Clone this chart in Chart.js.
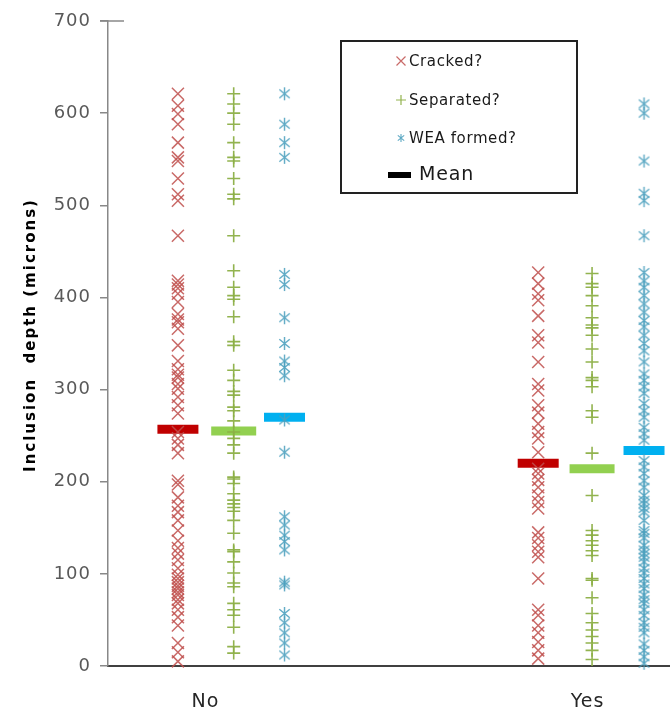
<!DOCTYPE html>
<html>
<head>
<meta charset="utf-8">
<script src="https://cdn.jsdelivr.net/npm/chart.js@4.4.0/dist/chart.umd.min.js"></script>
<style>
  html, body { margin: 0; padding: 0; background: #fff; }
  #wrap { width: 670px; height: 707px; }
</style>
</head>
<body>
<div id="wrap"><canvas id="c" width="670" height="707"></canvas></div>
<script>
// categories and labels
const groups = ['No', 'Yes'];
const seriesNames = ['Cracked?', 'Separated?', 'WEA formed?'];
const meanName = 'Mean';
const yTitle = 'Inclusion  depth (microns)';
const yTicks = [0, 100, 200, 300, 400, 500, 600, 700];

// inclusion depths (microns)
const crackedNo = [621, 608, 599, 588, 568, 552, 548, 529, 512, 505, 467, 418, 414, 410, 404, 395, 382, 376, 373, 366,
  348, 331, 322, 316, 313, 306, 301, 292, 283, 274, 254, 247, 240, 231, 201, 197, 183, 174, 167, 158, 147, 136, 128,
  122, 115, 106, 99, 95, 91, 87, 84, 80, 77, 72, 68, 61, 53, 44, 25, 15, 5];
const crackedYes = [427, 415, 404, 397, 380, 359, 351, 330, 306, 299, 283, 275, 263, 254, 247, 232, 214, 209, 202, 194,
  185, 178, 171, 145, 139, 131, 124, 118, 95, 61, 55, 44, 36, 26, 17, 8];

const separatedNo = [621, 610, 600, 588, 568, 552, 548, 529, 512, 507, 467, 429, 411, 402, 398, 379, 352, 348, 321, 310,
  298, 294, 281, 277, 266, 254, 247, 240, 231, 205, 203, 198, 187, 180, 176, 172, 168, 158, 144, 126, 124, 113, 101,
  90, 86, 68, 61, 55, 42, 21, 14];
const separatedYes = [426, 415, 411, 402, 391, 378, 370, 367, 359, 344, 330, 313, 310, 303, 277, 270, 231, 185, 147, 142,
  136, 131, 125, 120, 95, 93, 74, 57, 47, 39, 32, 25, 17, 7];

const weaNo = [621, 588, 568, 552, 425, 414, 378, 350, 331, 324, 315, 267, 232, 162, 153, 142, 135, 126, 91, 88, 57, 47,
  36, 25, 12];
const weaYes = [610, 600, 548, 513, 505, 467, 427, 418, 411, 402, 393, 384, 375, 368, 359, 350, 342, 330, 317, 310, 303,
  296, 285, 277, 270, 259, 252, 245, 223, 216, 209, 201, 194, 185, 180, 176, 171, 167, 158, 147, 144, 139, 131, 126,
  122, 118, 113, 106, 101, 95, 89, 84, 77, 72, 68, 61, 55, 47, 42, 36, 24, 17, 10, 3];

// means per series: [Cracked, Separated, WEA]
const meansNo = [257, 255, 270];
const meansYes = [220, 214, 234];

// layout: x position of each column on the linear x axis (No = 1, Yes = 2)
const colX = {
  No: [0.928, 1.074, 1.207],
  Yes: [1.871, 2.012, 2.148]
};

const colors = ['rgba(192,80,77,0.85)', 'rgba(140,175,70,0.95)', 'rgba(75,160,190,0.9)'];
const meanColors = ['#C00000', '#92D050', '#00B0F0'];

function starMarker(color, s, lw) {
  const c = document.createElement('canvas');
  c.width = c.height = s;
  const g = c.getContext('2d');
  g.strokeStyle = color;
  g.lineWidth = lw;
  const m = s / 2, r = s / 2 - 1;
  g.beginPath();
  g.moveTo(m, m - r); g.lineTo(m, m + r);
  g.moveTo(m - r * 0.8, m - r * 0.65); g.lineTo(m + r * 0.8, m + r * 0.65);
  g.moveTo(m + r * 0.8, m - r * 0.65); g.lineTo(m - r * 0.8, m + r * 0.65);
  g.stroke();
  return c;
}
const weaStar = starMarker(colors[2], 15, 1.4);
const weaStarSmall = starMarker(colors[2], 10, 1.1);

function pts(no, yes, i) {
  return no.map(v => ({ x: colX.No[i], y: v })).concat(yes.map(v => ({ x: colX.Yes[i], y: v })));
}

const pointDatasets = [
  { label: seriesNames[0], data: pts(crackedNo, crackedYes, 0), pointStyle: 'crossRot', radius: 8.5, borderWidth: 1.5 },
  { label: seriesNames[1], data: pts(separatedNo, separatedYes, 1), pointStyle: 'cross', radius: 6.5, borderWidth: 1.6 },
  { label: seriesNames[2], data: pts(weaNo, weaYes, 2), pointStyle: weaStar, radius: 7, borderWidth: 1 }
].map((d, i) => Object.assign(d, {
  borderColor: colors[i], backgroundColor: colors[i], pointBorderColor: colors[i], clip: false
}));

const meanDatasets = meanColors.map((col, i) => ({
  label: meanName,
  data: [{ x: colX.No[i], y: meansNo[i] }, { x: colX.Yes[i], y: meansYes[i] }],
  pointStyle: 'line',
  radius: i === 1 ? 22.5 : 20.5,
  borderWidth: 9,
  borderColor: col,
  backgroundColor: col,
  clip: false
}));

const extras = {
  id: 'extras',
  beforeDraw(chart) { chart.ctx.letterSpacing = '1px'; },
  afterDraw(chart) {
    const ctx = chart.ctx;
    ctx.letterSpacing = '0px';
    ctx.save();
    const area = chart.chartArea;
    // short line at the top of the axis
    ctx.strokeStyle = '#888';
    ctx.lineWidth = 1.5;
    ctx.beginPath();
    ctx.moveTo(area.left - 8, area.top);
    ctx.lineTo(area.left + 16, area.top);
    ctx.stroke();

    // y axis title
    ctx.save();
    ctx.translate(31, 335);
    ctx.rotate(-Math.PI / 2);
    ctx.font = 'bold 15px "DejaVu Sans"';
    ctx.fillStyle = '#000';
    ctx.textAlign = 'center';
    ctx.textBaseline = 'middle';
    ctx.letterSpacing = '2px';
    ctx.fillText(yTitle, 0, 0);
    ctx.restore();

    // legend box
    ctx.fillStyle = '#fff';
    ctx.fillRect(341, 41, 236, 152);
    ctx.strokeStyle = '#222';
    ctx.lineWidth = 2;
    ctx.strokeRect(341, 41, 236, 152);

    const mx = 401, rows = [61, 100, 138];
    ctx.lineWidth = 1.2;
    ctx.strokeStyle = colors[0];
    ctx.beginPath();
    ctx.moveTo(mx - 4.5, rows[0] - 4.5); ctx.lineTo(mx + 4.5, rows[0] + 4.5);
    ctx.moveTo(mx + 4.5, rows[0] - 4.5); ctx.lineTo(mx - 4.5, rows[0] + 4.5);
    ctx.stroke();
    ctx.strokeStyle = colors[1];
    ctx.beginPath();
    ctx.moveTo(mx - 5, rows[1]); ctx.lineTo(mx + 5, rows[1]);
    ctx.moveTo(mx, rows[1] - 5); ctx.lineTo(mx, rows[1] + 5);
    ctx.stroke();
    ctx.drawImage(weaStarSmall, mx - 5, rows[2] - 5);
    ctx.fillStyle = '#000';
    ctx.fillRect(388, 172, 23, 6);

    ctx.fillStyle = '#1a1a1a';
    ctx.textAlign = 'left';
    ctx.textBaseline = 'middle';
    ctx.font = '15px "DejaVu Sans"';
    ctx.letterSpacing = '0.6px';
    seriesNames.forEach((n, i) => ctx.fillText(n, 409, rows[i] + 1));
    ctx.font = '19px "DejaVu Sans"';
    ctx.letterSpacing = '0.8px';
    ctx.fillText(meanName, 419, 175);
    ctx.restore();
    ctx.letterSpacing = '0px';
  }
};

new Chart(document.getElementById('c'), {
  type: 'scatter',
  data: { datasets: pointDatasets.concat(meanDatasets) },
  options: {
    responsive: false,
    animation: false,
    layout: { autoPadding: false, padding: { top: 21, right: 0, bottom: 0, left: 0 } },
    plugins: { legend: { display: false }, tooltip: { enabled: false } },
    scales: {
      x: {
        type: 'linear',
        min: 0.745,
        max: 2.216,
        afterBuildTicks: s => { s.ticks = groups.map((g, i) => ({ value: i + 1 })); },
        afterFit: s => { s.height = 41; s.paddingLeft = 0; s.paddingRight = 0; },
        grid: { display: false },
        border: { display: true, color: '#404040', width: 2 },
        ticks: {
          padding: 17,
          color: '#262626',
          font: { family: 'DejaVu Sans', size: 19 },
          callback: v => groups[Math.round(v) - 1]
        }
      },
      y: {
        min: 0,
        max: 700,
        afterBuildTicks: s => { s.ticks = yTicks.map(v => ({ value: v })); },
        afterFit: s => { s.width = 108; },
        grid: { drawOnChartArea: false, color: '#888', tickLength: 8, lineWidth: 1.5 },
        border: { display: true, color: '#888', width: 1.5 },
        ticks: {
          padding: 9,
          color: '#595959',
          font: { family: 'DejaVu Sans', size: 18 }
        }
      }
    }
  },
  plugins: [extras]
});
</script>
</body>
</html>
